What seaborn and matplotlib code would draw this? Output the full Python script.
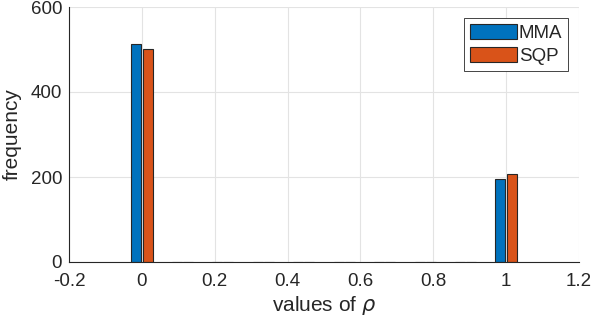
import numpy as np
import pandas as pd
import matplotlib
matplotlib.use("Agg")
import matplotlib.pyplot as plt
import seaborn as sns

# histogram of rho values, 10 bins on [0, 1]
bin_centers = [0.0, 1/9, 2/9, 3/9, 4/9, 5/9, 6/9, 7/9, 8/9, 1.0]
mma_counts = [512, 0, 0, 0, 0, 0, 0, 0, 0, 196]
sqp_counts = [502, 0, 0, 0, 0, 0, 0, 0, 0, 207]
methods = ["MMA", "SQP"]
colors = ["#0072BD", "#D95319"]

xticks = [-0.2, 0, 0.2, 0.4, 0.6, 0.8, 1, 1.2]
xtick_labels = ["-0.2", "0", "0.2", "0.4", "0.6", "0.8", "1", "1.2"]
yticks = [0, 200, 400, 600]

df = pd.DataFrame({
    "center": bin_centers * 2,
    "count": mma_counts + sqp_counts,
    "method": [methods[0]] * len(bin_centers) + [methods[1]] * len(bin_centers),
})

sns.set_theme(style="white")
plt.rcParams["font.family"] = ["Liberation Sans", "DejaVu Sans"]
plt.rcParams["mathtext.fontset"] = "dejavusans"

fig = plt.figure(figsize=(5.92, 3.26), dpi=100)
ax = fig.add_axes([69 / 592, 1 - 262 / 326, 510 / 592, 255 / 326])

sns.barplot(data=df, x="center", y="count", hue="method", native_scale=True,
            palette=colors, width=0.56, gap=0.12, edgecolor="#262626",
            linewidth=0.8, saturation=1, ax=ax)

ax.set_xlim(-0.2, 1.2)
ax.set_ylim(0, 600)
ax.set_xticks(xticks)
ax.set_xticklabels(xtick_labels)
ax.set_yticks(yticks)
ax.tick_params(direction="in", length=4, width=0.8, colors="#262626",
               labelsize=13.5)
ax.tick_params(axis="x", pad=8)
ax.tick_params(axis="y", pad=5)
ax.grid(True, color="#e3e3e3", linewidth=0.8)
ax.set_axisbelow(True)
for side in ["top", "right"]:
    ax.spines[side].set_visible(False)
for side in ["left", "bottom"]:
    ax.spines[side].set_color("#262626")
    ax.spines[side].set_linewidth(0.8)

ax.set_xlabel(r"values of $\rho$", fontsize=15, color="#262626", labelpad=3)
ax.set_ylabel("frequency", fontsize=15, color="#262626", labelpad=6)

handles, labels = ax.get_legend_handles_labels()
leg = ax.legend(handles, labels, loc="upper right", fontsize=13.5,
                frameon=True, fancybox=False, framealpha=1,
                edgecolor="#262626", borderaxespad=0.6,
                handlelength=2.5, handleheight=0.85, handletextpad=0.1,
                borderpad=0.3, labelspacing=0.3)
leg.get_frame().set_linewidth(0.6)

fig.savefig("out.png", dpi=100)
